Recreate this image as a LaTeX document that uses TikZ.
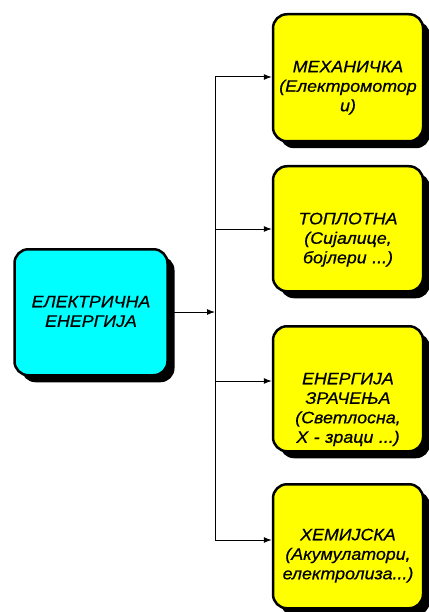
\documentclass[tikz,border=0pt]{standalone}
\usepackage{fontspec}
\setmainfont{Liberation Sans}
\newfontfamily\boxfont[FakeStretch=1.08,FakeBold=0.6]{Liberation Sans Italic}
\usetikzlibrary{shadows,arrows.meta}
\definecolor{srccyan}{RGB}{0,255,255}
\definecolor{tgtyellow}{RGB}{255,255,0}
\tikzset{
  box/.style={draw=black, line width=2.5pt, rounded corners=14pt, align=center,
    inner sep=0pt, font=\boxfont\fontsize{16.5}{19.5}\selectfont, text height=58pt,
    drop shadow={shadow xshift=7pt, shadow yshift=-7pt, fill=black, opacity=1}},
  srcbox/.style={box, fill=srccyan, text width=153pt, text depth=67pt},
  tgtbox/.style={box, fill=tgtyellow, text width=150pt, text depth=67pt},
  conn/.style={line width=1pt},
  arr/.style={conn, -{Latex[length=8pt,width=6pt]}}
}
\begin{document}
\begin{tikzpicture}[x=1pt,y=-1pt]
\useasboundingbox (0,0) rectangle (428,612);
\node[srcbox, text depth=68pt, anchor=north] (src) at (91,248) {ЕЛЕКТРИЧНА\\ЕНЕРГИЈА};
\node[tgtbox, text depth=69pt, anchor=north] (b1) at (348,13) {МЕХАНИЧКА\\(Електромотор\\и)};
\node[tgtbox, anchor=north] (b2) at (348,165) {ТОПЛОТНА\\(Сијалице,\\бојлери ...)};
\node[tgtbox, anchor=north] (b3) at (348,325) {ЕНЕРГИЈА\\ЗРАЧЕЊА\\(Светлосна,\\X - зраци ...)};
\node[tgtbox, text height=56pt, text depth=68pt, anchor=north] (b4) at (348,483) {ХЕМИЈСКА\\(Акумулатори,\\електролиза...)};
\coordinate (bus) at (215,312);
\coordinate (t1) at (215,77);
\coordinate (t2) at (215,229);
\coordinate (t3) at (215,381);
\coordinate (t4) at (215,540);
\draw[arr] (src.east |- bus) -- (bus);
\draw[conn] (t1) -- (t4);
\draw[arr] (t1) -- (b1.west |- t1);
\draw[arr] (t2) -- (b2.west |- t2);
\draw[arr] (t3) -- (b3.west |- t3);
\draw[arr] (t4) -- (b4.west |- t4);
\end{tikzpicture}
\end{document}
